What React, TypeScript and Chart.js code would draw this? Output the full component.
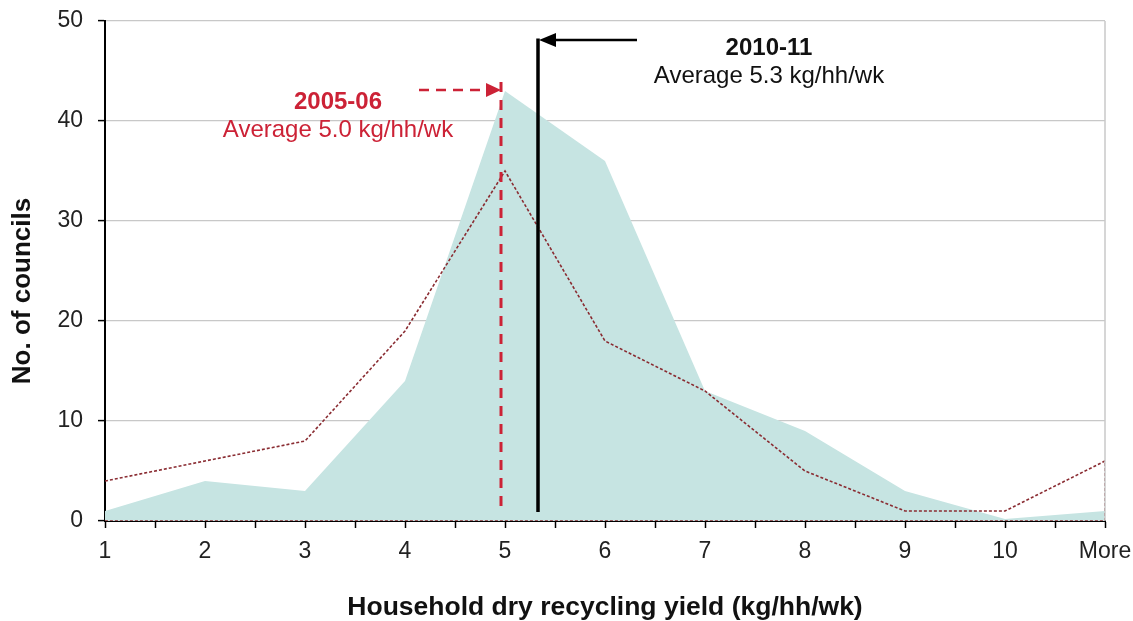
import React, { useEffect, useRef } from "react";
import { Chart, registerables } from "chart.js";

Chart.register(...registerables);

const categories = ["1", "2", "3", "4", "5", "6", "7", "8", "9", "10", "More"];
const councils201011 = [1, 4, 3, 14, 43, 36, 13, 9, 3, 0.2, 1];
const councils200506 = [4, 6, 8, 19, 35, 18, 13, 5, 1, 1, 6];
const yTicks = [0, 10, 20, 30, 40, 50];
const avg201011 = 5.33;
const avg200506 = 4.96;
const label201011 = ["2010-11", "Average 5.3 kg/hh/wk"];
const label200506 = ["2005-06", "Average 5.0 kg/hh/wk"];
const xTitle = "Household dry recycling yield (kg/hh/wk)";
const yTitle = "No. of councils";

const FONT = "'Liberation Sans', Arial, Helvetica, sans-serif";
const RED = "#cc2236";
const TEAL = "#c6e4e2";
const DOT = "#8a2c32";

function arrowHead(ctx: CanvasRenderingContext2D, tipX: number, tipY: number, dir: number, len: number, half: number, color: string) {
  ctx.save();
  ctx.setLineDash([]);
  ctx.fillStyle = color;
  ctx.beginPath();
  ctx.moveTo(tipX, tipY);
  ctx.lineTo(tipX - dir * len, tipY - half);
  ctx.lineTo(tipX - dir * len, tipY + half);
  ctx.closePath();
  ctx.fill();
  ctx.restore();
}

const annotations = {
  id: "annotations",
  beforeDraw(chart: any) {
    const { ctx, width, height } = chart;
    ctx.save();
    ctx.fillStyle = "#ffffff";
    ctx.fillRect(0, 0, width, height);
    ctx.restore();
  },
  afterDraw(chart: any) {
    const { ctx, chartArea } = chart;
    const x = chart.scales.x;
    const y = chart.scales.y;
    ctx.save();
    // right border of plot area
    ctx.strokeStyle = "#c8c8c8";
    ctx.lineWidth = 1.5;
    ctx.beginPath();
    ctx.moveTo(chartArea.right, chartArea.top);
    ctx.lineTo(chartArea.right, chartArea.bottom);
    ctx.stroke();

    // 2005-06 red dashed marker
    const xr = x.getPixelForValue(avg200506);
    ctx.strokeStyle = RED;
    ctx.lineWidth = 3;
    ctx.setLineDash([10, 8]);
    ctx.beginPath();
    ctx.moveTo(xr, y.getPixelForValue(43.9));
    ctx.lineTo(xr, y.getPixelForValue(0.9));
    ctx.stroke();
    const ya = y.getPixelForValue(43.1);
    ctx.lineWidth = 2.5;
    ctx.setLineDash([10, 7]);
    ctx.beginPath();
    ctx.moveTo(x.getPixelForValue(4.14), ya);
    ctx.lineTo(xr - 12, ya);
    ctx.stroke();
    arrowHead(ctx, xr, ya, 1, 15, 7, RED);

    // 2010-11 black marker
    const xb = x.getPixelForValue(avg201011);
    const yt = y.getPixelForValue(48.1);
    ctx.setLineDash([]);
    ctx.strokeStyle = "#000";
    ctx.lineWidth = 3.5;
    ctx.beginPath();
    ctx.moveTo(xb, yt - 1.5);
    ctx.lineTo(xb, y.getPixelForValue(0.9));
    ctx.stroke();
    ctx.lineWidth = 2.5;
    ctx.beginPath();
    ctx.moveTo(x.getPixelForValue(6.32), yt);
    ctx.lineTo(xb + 12, yt);
    ctx.stroke();
    arrowHead(ctx, xb + 1, yt, -1, 17, 7, "#000");

    // labels
    ctx.textAlign = "center";
    ctx.textBaseline = "middle";
    ctx.fillStyle = "#111";
    ctx.font = `bold 24px ${FONT}`;
    ctx.fillText(label201011[0], x.getPixelForValue(7.64), y.getPixelForValue(47.3));
    ctx.font = `24px ${FONT}`;
    ctx.fillText(label201011[1], x.getPixelForValue(7.64), y.getPixelForValue(44.5));
    ctx.fillStyle = RED;
    ctx.font = `bold 24px ${FONT}`;
    ctx.fillText(label200506[0], x.getPixelForValue(3.33), y.getPixelForValue(41.9));
    ctx.font = `24px ${FONT}`;
    ctx.fillText(label200506[1], x.getPixelForValue(3.33), y.getPixelForValue(39.1));

    // y axis title
    ctx.save();
    ctx.translate(23, y.getPixelForValue(23.0));
    ctx.rotate(-Math.PI / 2);
    ctx.fillStyle = "#111";
    ctx.font = `bold 26px ${FONT}`;
    ctx.fillText(yTitle, 0, 0);
    ctx.restore();
    ctx.restore();
  },
};

export default function App() {
  const ref = useRef<HTMLCanvasElement>(null);
  useEffect(() => {
    document.body.style.margin = "0";
    const pts = (arr: number[]) => arr.map((v, i) => ({ x: i + 1, y: v }));
    const closed200506 = [
      ...pts(councils200506),
      { x: categories.length, y: 0 },
      { x: 1, y: 0 },
    ];
    const chart = new Chart(ref.current!, {
      type: "scatter",
      data: {
        datasets: [
          {
            label: "2005-06",
            data: closed200506,
            showLine: true,
            borderColor: DOT,
            borderWidth: 1.6,
            borderDash: [3, 2],
            pointRadius: 0,
            fill: false,
            order: 1,
          } as any,
          {
            label: "2010-11",
            data: pts(councils201011),
            showLine: true,
            backgroundColor: TEAL,
            borderColor: TEAL,
            borderWidth: 0,
            pointRadius: 0,
            fill: "origin",
            order: 2,
          } as any,
        ],
      },
      options: {
        animation: false,
        responsive: false,
        maintainAspectRatio: false,
        layout: { padding: { top: 21, right: 28, left: 0, bottom: 0 } },
        plugins: {
          legend: { display: false },
          tooltip: { enabled: false },
          title: { display: false },
        },
        scales: {
          x: {
            type: "linear",
            min: 1,
            max: categories.length,
            afterFit: (s: any) => {
              s.height = 100;
              s.paddingLeft = 0;
              s.paddingRight = 0;
            },
            afterBuildTicks: (s: any) => {
              const t = [];
              for (let i = 0; i < categories.length * 2 - 1; i++) t.push({ value: 1 + i / 2 });
              s.ticks = t;
            },
            ticks: {
              autoSkip: false,
              maxRotation: 0,
              padding: 10,
              color: "#222",
              font: { family: FONT, size: 23 },
              callback: (v: any) => (Number.isInteger(v) ? categories[v - 1] : ""),
            },
            grid: {
              display: true,
              drawOnChartArea: false,
              drawTicks: true,
              tickLength: 7,
              tickColor: "#000",
              tickWidth: 1.5,
            },
            border: { color: "#000", width: 2 },
            title: {
              display: true,
              text: xTitle,
              color: "#111",
              font: { family: FONT, size: 26.5, weight: "bold", lineHeight: 1.0 },
              padding: { top: 0, bottom: 0 },
            },
          },
          y: {
            min: 0,
            max: 50,
            afterFit: (s: any) => {
              s.width = 105;
              s.paddingTop = 0;
              s.paddingBottom = 0;
            },
            afterBuildTicks: (s: any) => {
              s.ticks = yTicks.map((v) => ({ value: v }));
            },
            ticks: {
              padding: 15,
              color: "#222",
              font: { family: FONT, size: 23 },
            },
            grid: {
              color: "#c8c8c8",
              lineWidth: 1.2,
              tickColor: "#000",
              tickLength: 7,
              tickWidth: 1.5,
            },
            border: { color: "#000", width: 2 },
          },
        },
      },
      plugins: [annotations],
    } as any);
    return () => chart.destroy();
  }, []);
  return (
    <div style={{ position: "fixed", left: 0, top: 0, width: 1133, height: 621 }}>
      <canvas ref={ref} width={1133} height={621} style={{ width: 1133, height: 621 }} />
    </div>
  );
}
